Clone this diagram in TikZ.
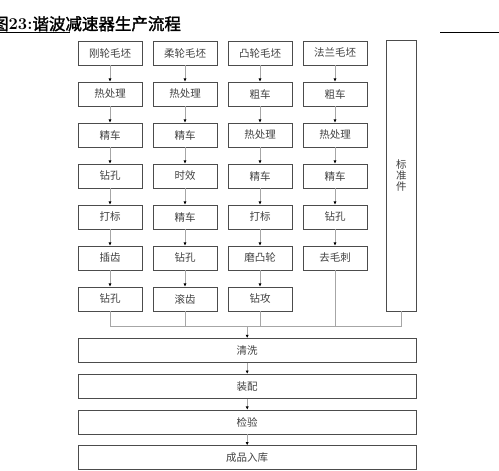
\documentclass[tikz,border=0pt]{standalone}
\usepackage{fontspec}
\usepackage{tikz}
\usetikzlibrary{positioning,calc,arrows.meta}
\newfontfamily\cjk{Noto Sans CJK SC}
\newfontfamily\cjkbf[FakeBold=1.6]{Noto Sans CJK SC}

\tikzset{
  stepbox/.style={draw=black!70, line width=0.7pt, minimum width=64pt, minimum height=24pt,
    inner sep=0pt, font=\cjk\fontsize{10.5pt}{12pt}\selectfont, text=black!75},
  widebox/.style={stepbox, minimum width=337.7pt},
  flow/.style={draw=black!35, line width=0.8pt, -{Latex[color=black, length=3.2pt, width=3.2pt]}},
  joinline/.style={draw=black!35, line width=0.8pt}
}

\begin{document}
\begin{tikzpicture}[x=1pt, y=-1pt]
  \useasboundingbox (0,0) rectangle (499,471);

  % Title
  \node[anchor=base west, inner sep=0pt] (title) at (-8,30)
    {\cjkbf\fontsize{16.5pt}{18pt}\selectfont 图{\rmfamily\bfseries 23:}谐波减速器生产流程};
  \draw[line width=0.9pt] (0,32.7) -- (70,32.7);
  \draw[line width=0.9pt] (440,32.7) -- (499,32.7);

  % Part columns
  \foreach \name [count=\r] in {刚轮毛坯,热处理,精车,钻孔,打标,插齿,钻孔}
    \node[stepbox] (a\r) at (110,{53+41*(\r-1)}) {\name};
  \foreach \name [count=\r] in {柔轮毛坯,热处理,精车,时效,精车,钻孔,滚齿}
    \node[stepbox] (b\r) at (185,{53+41*(\r-1)}) {\name};
  \foreach \name [count=\r] in {凸轮毛坯,粗车,热处理,精车,打标,磨凸轮,钻攻}
    \node[stepbox] (c\r) at (260,{53+41*(\r-1)}) {\name};
  \foreach \name [count=\r] in {法兰毛坯,粗车,热处理,精车,钻孔,去毛刺}
    \node[stepbox] (d\r) at (335,{53+41*(\r-1)}) {\name};

  % Standard parts
  \node[stepbox, minimum width=29.3pt, minimum height=271pt, align=center,
    font=\cjk\fontsize{10.5pt}{10.6pt}\selectfont] (std) at (401.3,175.5) {标\\准\\件};

  % Arrows inside columns
  \foreach \col in {a,b,c} {
    \foreach \r [evaluate=\r as \n using int(\r+1)] in {1,...,6}
      \draw[flow] (\col\r) -- (\col\n);
  }
  \foreach \r [evaluate=\r as \n using int(\r+1)] in {1,...,5}
    \draw[flow] (d\r) -- (d\n);

  % Assembly line
  \node[widebox] (wash) at (247.2,350.3) {清洗};
  \node[widebox] (assy) at (247.2,386.2) {装配};
  \node[widebox] (test) at (247.2,422) {检验};
  \node[widebox] (store) at (247.2,457.6) {成品入库};

  % Gather line
  \coordinate (ga) at (a7.south |- 0,326.7);
  \coordinate (gb) at (b7.south |- 0,326.7);
  \coordinate (gc) at (c7.south |- 0,326.7);
  \coordinate (gd) at (d6.south |- 0,326.7);
  \coordinate (gs) at (std.south |- 0,326.7);
  \coordinate (gw) at (wash.north |- 0,326.7);
  \draw[joinline] (a7.south) -- (ga);
  \draw[joinline] (b7.south) -- (gb);
  \draw[joinline] (c7.south) -- (gc);
  \draw[joinline] (d6.south) -- (gd);
  \draw[joinline] (std.south) -- (gs);
  \draw[joinline] (ga) -- (gs);
  \draw[flow] (gw) -- (wash.north);

  \draw[flow] (wash) -- (assy);
  \draw[flow] (assy) -- (test);
  \draw[flow] (test) -- (store);
\end{tikzpicture}
\end{document}
